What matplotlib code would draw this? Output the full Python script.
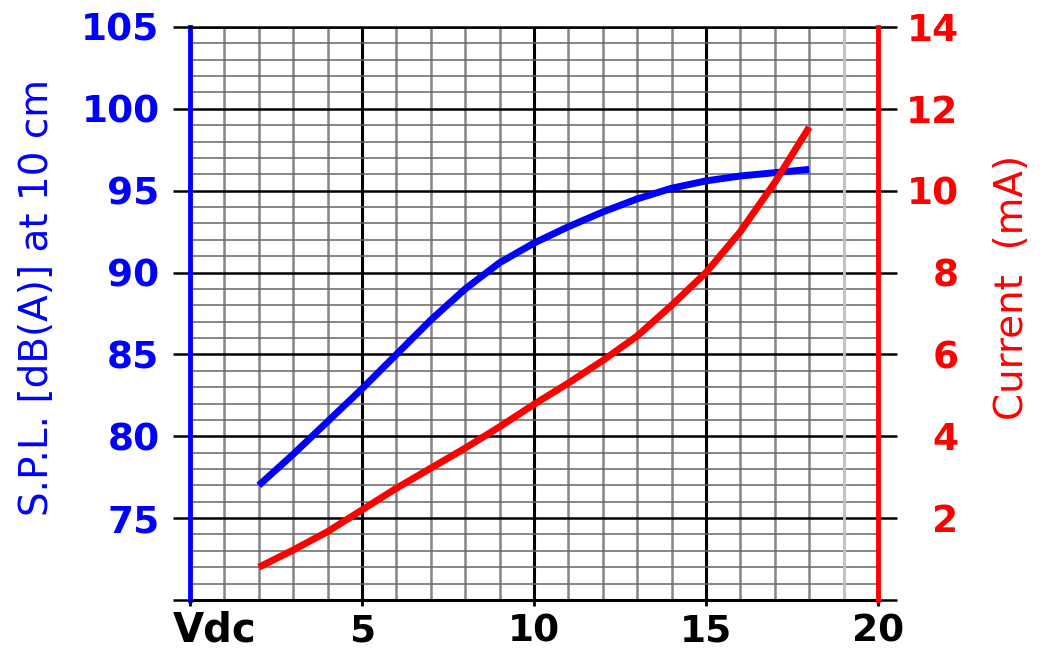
import matplotlib
matplotlib.use('Agg')
import matplotlib.pyplot as plt
from matplotlib.ticker import MultipleLocator

plt.rcParams['font.family'] = 'DejaVu Sans'
plt.rcParams['font.weight'] = 'bold'

# values
volts = [2, 3, 4, 5, 6, 7, 8, 9, 10, 11, 12, 13, 14, 15, 16, 17, 18]
spl_db = [77.0, 78.9, 80.9, 82.9, 85.0, 87.1, 89.0, 90.6, 91.8, 92.8, 93.7,
          94.5, 95.15, 95.6, 95.9, 96.1, 96.3]
current_ma = [0.8, 1.22, 1.67, 2.2, 2.73, 3.22, 3.71, 4.23, 4.78, 5.3, 5.85,
              6.45, 7.2, 8.0, 9.0, 10.2, 11.55]

x_ticks = [0, 5, 10, 15, 20]
x_tick_labels = ['', '5', '10', '15', '20']
spl_ticks = [70, 75, 80, 85, 90, 95, 100, 105]
spl_tick_labels = ['', '75', '80', '85', '90', '95', '100', '105']
ma_ticks = [0, 2, 4, 6, 8, 10, 12, 14]
ma_tick_labels = ['', '2', '4', '6', '8', '10', '12', '14']

fig = plt.figure(figsize=(10.55, 6.52), dpi=100)
ax = fig.add_axes([0.1801, 0.0798, 0.6521, 0.8788])

ax.set_xlim(0, 20)
ax.set_ylim(70, 105)
ax.set_xticks(x_ticks, x_tick_labels)
ax.set_yticks(spl_ticks, spl_tick_labels)
ax.xaxis.set_minor_locator(MultipleLocator(1))
ax.yaxis.set_minor_locator(MultipleLocator(1))

ax.xaxis.grid(True, which='major', color='black', lw=2.2)
ax.xaxis.grid(True, which='minor', color='#858585', lw=1.8)
ax.yaxis.grid(True, which='major', color='black', lw=1.8)
ax.yaxis.grid(True, which='minor', color='#666666', lw=1.1)
ax.axvline(19, color='#c4c4c4', lw=2, zorder=1.6)

ax.tick_params(which='minor', length=0)
ax.tick_params(axis='y', which='major', direction='out', length=12, width=1.8,
               color='black', labelcolor='blue', labelsize=27, pad=10)
ax.tick_params(axis='x', which='major', direction='out', length=4, width=2,
               color='black', labelcolor='black', labelsize=27, pad=6)

ax.spines['right'].set_visible(False)
ax.spines['top'].set_linewidth(1.8)
ax.spines['bottom'].set_linewidth(2.2)
ax.spines['left'].set_color('blue')
ax.spines['left'].set_linewidth(3.5)

ax.plot(volts, spl_db, color='blue', lw=5, solid_capstyle='butt',
        solid_joinstyle='round', zorder=3)

ax.set_ylabel('S.P.L. [dB(A)] at 10 cm', color='blue', fontsize=28,
              fontweight='normal', va='center')
ax.yaxis.set_label_coords(-0.222, 0.528)

ax.text(-0.025, -0.019, 'Vdc', transform=ax.transAxes, ha='left', va='top',
        fontsize=29, fontweight='bold', color='black')

ax2 = ax.twinx()
ax2.set_ylim(0, 14)
ax2.set_yticks(ma_ticks, ma_tick_labels)
ax2.tick_params(axis='y', which='major', direction='out', length=14, width=1.8,
                color='black', labelcolor='red', labelsize=27, pad=44)
for lbl in ax2.get_yticklabels():
    lbl.set_ha('right')
for side in ['left', 'top', 'bottom']:
    ax2.spines[side].set_visible(False)
ax2.spines['right'].set_color('red')
ax2.spines['right'].set_linewidth(3.5)

ax2.plot(volts, current_ma, color='red', lw=5, solid_capstyle='butt',
         solid_joinstyle='round', zorder=3)

ax2.set_ylabel('Current  (mA)', color='red', fontsize=28, fontweight='normal',
               rotation=90, va='center')
ax2.yaxis.set_label_coords(1.195, 0.546)

fig.savefig('out.png', dpi=100)
